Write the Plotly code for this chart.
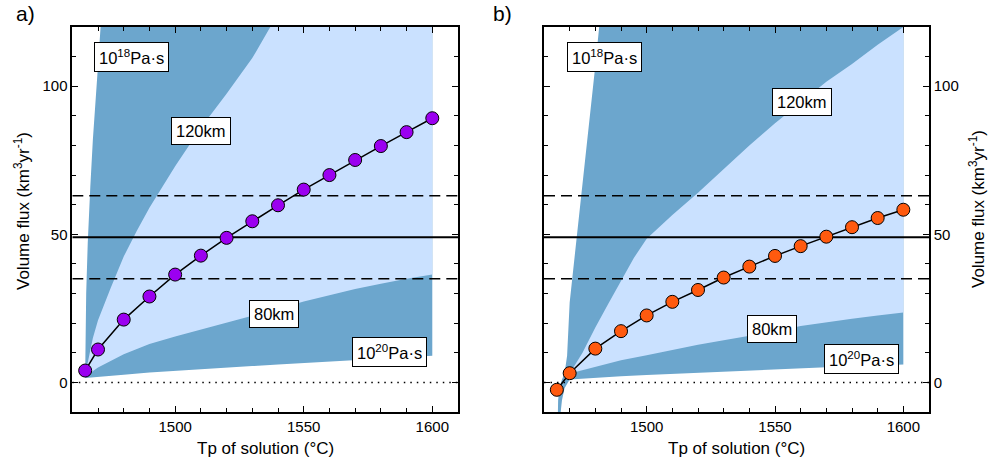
import plotly.graph_objects as go

# ---- melt volume flux versus potential temperature of the solution ----
TP = [1465, 1470, 1480, 1490, 1500, 1510, 1520, 1530, 1540, 1550, 1560, 1570, 1580, 1590, 1600]
FLUX_A = [4.0, 11.1, 21.2, 29.0, 36.4, 42.8, 48.8, 54.4, 59.8, 65.1, 70.0, 75.1, 79.8, 84.5, 89.2]
FLUX_B = [-2.5, 3.1, 11.4, 17.3, 22.6, 27.2, 31.2, 35.4, 39.1, 42.7, 46.0, 49.2, 52.4, 55.5, 58.3]

# ---- envelope curves, panel a ----
A_VISC18_T = [1465, 1465.4, 1466, 1467, 1468, 1469, 1470, 1471]
A_VISC18_V = [2.5, 30, 47, 66, 82, 95, 107, 120]
A_D120_T = [1465, 1466, 1468, 1470, 1475, 1480, 1485, 1490, 1495, 1500, 1510, 1520, 1530, 1537]
A_D120_V = [2.5, 7, 15, 21, 32, 42.5, 51, 59, 66, 73, 86, 97.5, 109.5, 120]
A_D80_T = TP
A_D80_V = [2.0, 5.0, 9.5, 13.0, 15.5, 17.8, 20.2, 22.5, 24.8, 27.3, 29.5, 31.5, 33.3, 35.0, 36.4]
A_VISC20_T = TP
A_VISC20_V = [1.5, 1.8, 2.6, 3.3, 3.9, 4.5, 5.0, 5.5, 6.0, 6.5, 6.9, 7.4, 7.9, 8.4, 9.0]

# ---- envelope curves, panel b ----
B_VISC18_T = [1465, 1465.5, 1466, 1467, 1468, 1469, 1470, 1472, 1474, 1476, 1478, 1480, 1481.5]
B_VISC18_V = [-30, -6, -2, 1, 3, 9, 27, 45, 60, 76, 91, 107, 120]
B_D120_T = [1465, 1466, 1467, 1468, 1470, 1475, 1480, 1485, 1490, 1495, 1500, 1510, 1520,
            1530, 1540, 1550, 1560, 1570, 1580, 1590, 1600]
B_D120_V = [-30, -10, -3, 1, 3, 10, 18.5, 26.5, 34.5, 42, 48.5, 56.5, 64, 72, 80, 87.5,
            94.5, 101.5, 107.5, 114, 120]
B_D80_T = [1465, 1466, 1467, 1468, 1470, 1480, 1490, 1500, 1510, 1520, 1530, 1540, 1550,
           1560, 1570, 1580, 1590, 1600]
B_D80_V = [-30, -10, -3, 1.5, 3.0, 5.3, 7.5, 9.2, 11.0, 12.7, 14.2, 15.7, 17.2, 19.0,
           20.3, 21.5, 22.6, 23.6]
B_VISC20_T = B_D80_T
B_VISC20_V = [-30, -14, -6, -2, 1.0, 1.6, 2.1, 2.5, 2.9, 3.3, 3.6, 4.0, 4.4, 4.7, 5.1,
              5.4, 5.7, 6.0]

# observed flux and its uncertainty
FLUX_OBS = 49
FLUX_OBS_LO = 35
FLUX_OBS_HI = 63

X_RANGE = [1460, 1610]
Y_RANGE = [-10, 120]
T_END = 1600

DARK = "#6CA6CD"
LIGHT = "#CAE1FF"
FONT = "Liberation Sans, Arial, Helvetica, sans-serif"

W, H = 991, 469


def band(lower_t, lower_v, upper_t, upper_v):
    """Closed polygon between a lower curve and an upper curve capped at the axis top."""
    xs = list(lower_t) + [T_END] + list(upper_t)[::-1]
    ys = list(lower_v) + [Y_RANGE[1]] + list(upper_v)[::-1]
    return xs, ys


fig = go.Figure()

panels = [
    ("x", "y", FLUX_A, "#9B00F0",
     (A_VISC18_T, A_VISC18_V), (A_D120_T, A_D120_V), (A_D80_T, A_D80_V), (A_VISC20_T, A_VISC20_V)),
    ("x2", "y2", FLUX_B, "#FF5A0F",
     (B_VISC18_T, B_VISC18_V), (B_D120_T, B_D120_V), (B_D80_T, B_D80_V), (B_VISC20_T, B_VISC20_V)),
]

for xa, ya, flux, colour, v18, d120, d80, v20 in panels:
    bx, by = band(v20[0], v20[1], v18[0], v18[1])
    fig.add_trace(go.Scatter(x=bx, y=by, xaxis=xa, yaxis=ya, mode="lines", fill="toself",
                             fillcolor=DARK, line=dict(width=0), hoverinfo="skip"))
    lx, ly = band(d80[0], d80[1], d120[0], d120[1])
    fig.add_trace(go.Scatter(x=lx, y=ly, xaxis=xa, yaxis=ya, mode="lines", fill="toself",
                             fillcolor=LIGHT, line=dict(width=0), hoverinfo="skip"))
    # reference levels
    fig.add_trace(go.Scatter(x=X_RANGE, y=[0, 0], xaxis=xa, yaxis=ya, mode="lines",
                             line=dict(color="black", width=1.5, dash="1.5px,5px")))
    for lvl in (FLUX_OBS_LO, FLUX_OBS_HI):
        fig.add_trace(go.Scatter(x=X_RANGE, y=[lvl, lvl], xaxis=xa, yaxis=ya, mode="lines",
                                 line=dict(color="black", width=1.5, dash="11px,6px")))
    fig.add_trace(go.Scatter(x=X_RANGE, y=[FLUX_OBS, FLUX_OBS], xaxis=xa, yaxis=ya, mode="lines",
                             line=dict(color="black", width=2)))
    fig.add_trace(go.Scatter(x=TP, y=flux, xaxis=xa, yaxis=ya, mode="lines+markers",
                             line=dict(color="black", width=1.5),
                             marker=dict(size=13, color=colour, line=dict(color="black", width=1))))

axis_common = dict(
    showline=True, linecolor="black", linewidth=1.5, mirror="ticks",
    ticks="inside", ticklen=6, tickwidth=1.2, tickcolor="black",
    showgrid=False, zeroline=False,
    tickfont=dict(family=FONT, size=15, color="black"),
)
xax = dict(axis_common, range=X_RANGE, tick0=0, dtick=50,
           minor=dict(ticks="inside", ticklen=4, dtick=10, tickcolor="black", tickwidth=1.2))
yax = dict(axis_common, range=Y_RANGE, tick0=0, dtick=50,
           minor=dict(ticks="inside", ticklen=4, dtick=10, tickcolor="black", tickwidth=1.2))

x0a, x1a = 72.3 / W, 458 / W
x0b, x1b = 544 / W, 929 / W
y0, y1 = 1 - 412 / H, 1 - 27 / H

fig.update_layout(
    width=W, height=H,
    margin=dict(l=0, r=0, t=0, b=0),
    paper_bgcolor="white", plot_bgcolor="white",
    showlegend=False,
    font=dict(family=FONT, color="black"),
    xaxis=dict(xax, domain=[x0a, x1a], anchor="y"),
    yaxis=dict(yax, domain=[y0, y1], anchor="x", side="left"),
    xaxis2=dict(xax, domain=[x0b, x1b], anchor="y2"),
    yaxis2=dict(yax, domain=[y0, y1], anchor="x2", side="right"),
)

box = dict(showarrow=False, bgcolor="white", bordercolor="black", borderwidth=1,
           borderpad=4, font=dict(family=FONT, size=16.5, color="black"))
labels = [
    ("x", "y", 1483.2, 109.8, "10<sup>18</sup>Pa·s"),
    ("x", "y", 1510.0, 84.8, "120km"),
    ("x", "y", 1538.4, 23.0, "80km"),
    ("x", "y", 1583.3, 10.1, "10<sup>20</sup>Pa·s"),
    ("x2", "y2", 1483.7, 109.8, "10<sup>18</sup>Pa·s"),
    ("x2", "y2", 1560.5, 94.7, "120km"),
    ("x2", "y2", 1548.8, 17.9, "80km"),
    ("x2", "y2", 1583.7, 7.9, "10<sup>20</sup>Pa·s"),
]
for xr, yr, xv, yv, txt in labels:
    fig.add_annotation(box, xref=xr, yref=yr, x=xv, y=yv, text=txt)

title_font = dict(family=FONT, size=17, color="black")
free = dict(xref="paper", yref="paper", showarrow=False, xanchor="center", yanchor="middle")
ytitle = "Volume flux (km<sup>3</sup>yr<sup>-1</sup>)"
fig.add_annotation(free, x=22 / W, y=1 - 211 / H, text=ytitle, textangle=-90, font=title_font)
fig.add_annotation(free, x=977 / W, y=1 - 209 / H, text=ytitle, textangle=-90, font=title_font)
fig.add_annotation(free, x=(x0a + x1a) / 2, y=1 - 448 / H, text="Tp of solution (°C)",
                   font=title_font)
fig.add_annotation(free, x=(x0b + x1b) / 2, y=1 - 448 / H, text="Tp of solution (°C)",
                   font=title_font)
panel_font = dict(family=FONT, size=21, color="black")
fig.add_annotation(free, x=25 / W, y=1 - 14 / H, text="a)", font=panel_font)
fig.add_annotation(free, x=502 / W, y=1 - 14 / H, text="b)", font=panel_font)

fig.write_html("out.html")
